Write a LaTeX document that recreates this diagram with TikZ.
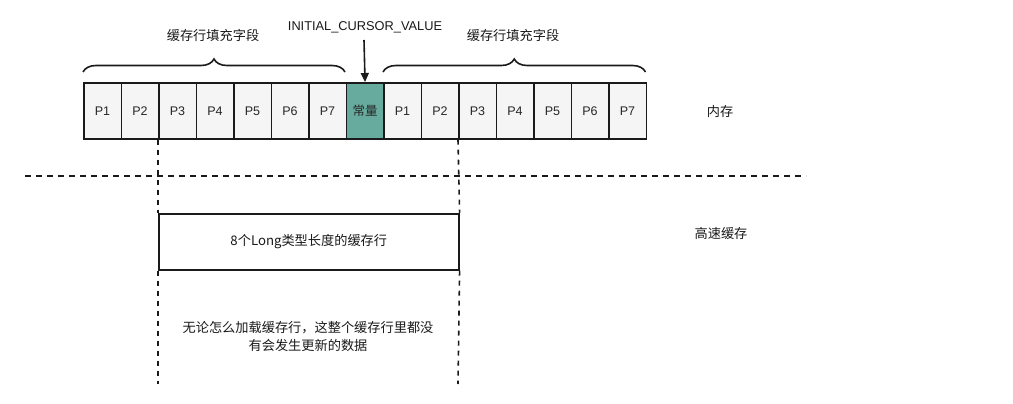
\documentclass[tikz,border=0pt]{standalone}
\usepackage{fontspec}
\setmainfont{Liberation Sans}
\newfontfamily\cjk{Noto Sans CJK SC}
\usetikzlibrary{decorations.pathreplacing,arrows.meta}
\definecolor{cellfill}{HTML}{F5F5F5}
\definecolor{constfill}{HTML}{67AB9F}
\definecolor{edge}{HTML}{1A1A1A}
\tikzset{
  cell/.style={draw=edge, line width=1.6pt, fill=cellfill, minimum width=37.5pt, minimum height=56pt, inner sep=0pt, anchor=north west, font=\fontsize{12.5}{14}\selectfont, text=black!85},
  constcell/.style={cell, fill=constfill},
  lbl/.style={font=\cjk\fontsize{13.2}{15}\selectfont, text=black!90, inner sep=0pt, align=center},
  bracestyle/.style={decorate, decoration={brace, amplitude=13pt}, line width=1.6pt, draw=edge},
  sep/.style={dash pattern=on 6pt off 5pt, line width=1.6pt, draw=edge},
  vsep/.style={dash pattern=on 5pt off 5pt, line width=1.6pt, draw=edge},
}
\begin{document}
\begin{tikzpicture}[x=1pt,y=-1pt]
\useasboundingbox (0,0) rectangle (1013,404);
% memory cells
\foreach \i/\t in {0/P1,1/P2,2/P3,3/P4,4/P5,5/P6,6/P7}{
  \node[cell] (a\i) at ({83+37.5*\i},82) {\t};
}
\node[constcell] (c) at ({83+37.5*7},82) {\cjk 常量};
\foreach \i/\t in {0/P1,1/P2,2/P3,3/P4,4/P5,5/P6,6/P7}{
  \node[cell] (b\i) at ({383+37.5*\i},82) {\t};
}
% braces
\coordinate (lb1) at (83,72);
\coordinate (lb2) at (345,72);
\coordinate (rb1) at (383,72);
\coordinate (rb2) at (645.5,72);
\draw[bracestyle] (lb1) -- (lb2);
\draw[bracestyle] (rb1) -- (rb2);
\node[lbl] (lt) at (213,35) {缓存行填充字段};
\node[lbl] (rt) at (513,35) {缓存行填充字段};
% initial cursor
\node[font=\fontsize{12.8}{14}\selectfont, text=black!90, inner sep=0pt] (icv) at (365,27) {INITIAL\_CURSOR\_VALUE};
\coordinate (icvs) at (364,40);
\draw[line width=1.6pt, draw=edge, -{Triangle[length=9pt,width=8pt]}] (icvs) -- (c.north);
% labels right
\node[lbl] (mem) at (720,111) {内存};
\node[lbl] (cache) at (721,233) {高速缓存};
% horizontal separator
\coordinate (h1) at (25,176);
\coordinate (h2) at (806,176);
\draw[sep] (h1) -- (h2);
% cache line box
\node[draw=edge, line width=1.6pt, minimum width=300pt, minimum height=56pt, anchor=north west, inner sep=0pt, font=\cjk\fontsize{13.2}{15}\selectfont, text=black!90] (line) at (158,213) {8个Long类型长度的缓存行};
% vertical dashed
\coordinate (v1e) at (158,384);
\coordinate (v2e) at (458,384);
\draw[vsep] (a2.south west) -- (line.north west);
\draw[vsep] (b2.south west) -- (line.north east);
\draw[vsep] (line.south west) -- (v1e);
\draw[vsep] (line.south east) -- (v2e);
% bottom text
\node[lbl, font=\cjk\fontsize{13.2}{18}\selectfont] (note) at (308,336) {无论怎么加载缓存行，这整个缓存行里都没\\有会发生更新的数据};
\end{tikzpicture}
\end{document}
